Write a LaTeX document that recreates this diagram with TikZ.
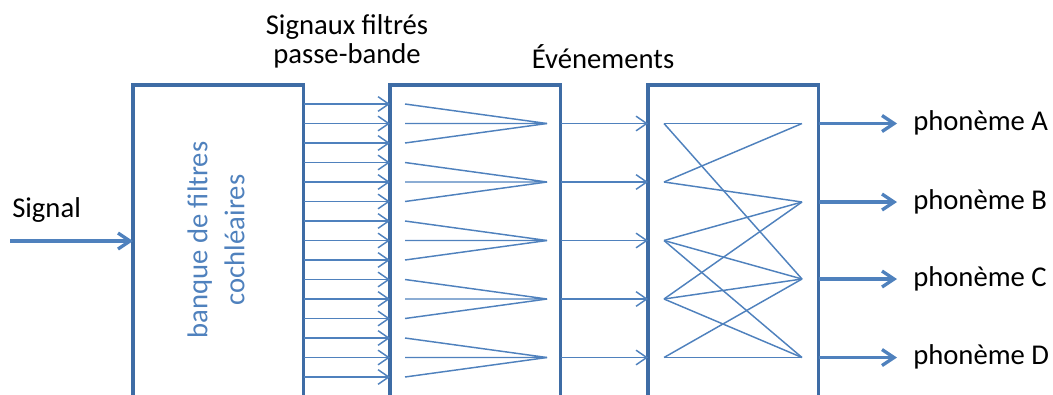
\documentclass[tikz,border=0pt]{standalone}
\usepackage{fontspec}
\setmainfont{Carlito}
\usepackage{xcolor}
\usetikzlibrary{arrows.meta}
\definecolor{bordure}{RGB}{62,108,165}
\definecolor{trait}{RGB}{79,129,189}

\begin{document}
\begin{tikzpicture}[x=0.75pt,y=-0.75pt,
    bloc/.style={draw=bordure,line width=2.6pt,minimum width=128pt,minimum height=252pt,
      anchor=north west,inner sep=0pt,outer sep=0pt},
    fin/.style={draw=trait,line width=1.1pt},
    fleche/.style={fin,-{Straight Barb[length=8pt,width=11pt]}},
    grosse/.style={draw=trait,line width=2.5pt,-{Straight Barb[length=9pt,width=12pt]}},
    texte/.style={inner sep=0pt,font=\fontsize{21.5}{22}\selectfont}]
  \clip (0,0) rectangle (1053,394);
  % les trois blocs
  \node[bloc] (banque) at (133,85) {};
  \node[bloc] (evt) at (390,85) {};
  \node[bloc] (reco) at (648,85) {};
  \node[texte,text=trait,rotate=90,align=center,font=\fontsize{21.5}{27.75}\selectfont]
    (nomb) at (216,240) {banque de filtres\\cochléaires};
  % titres
  \node[texte,align=center,font=\fontsize{21.5}{21.75}\selectfont] (titre1) at (347,41)
    {Signaux filtrés\\passe-bande};
  \node[texte,anchor=base] (titre2) at (603,68) {Événements};
  % entree
  \node[texte,anchor=base west] (sig) at (12,217) {Signal};
  \coordinate (entree) at (10,241);
  \draw[grosse] (entree) -- (entree -| banque.west);
  % signaux passe-bande
  \foreach \i in {0,...,14} {
    \pgfmathsetmacro\y{104+19.5*\i}
    \draw[fleche] (banque.east |- 0,\y) -- (evt.west |- 0,\y);
  }
  % evenements
  \foreach \g in {1,...,5} {
    \pgfmathsetmacro\y{104+19.5*(3*\g-2)}
    \coordinate (p\g) at (547,\y);
    \coordinate (g\g) at (664,\y);
    \draw[fin] (405,\y-19.5) -- (p\g) -- (405,\y);
    \draw[fin] (405,\y+19.5) -- (p\g);
    \draw[fleche] (evt.east |- p\g) -- (reco.west |- p\g);
  }
  % phonemes
  \foreach \k/\y/\lettre in {1/123.5/A,2/202/B,3/279/C,4/357.5/D} {
    \coordinate (d\k) at (802,\y);
    \node[texte,anchor=base west] (ph\k) at (913,\y+7) {phonème \lettre};
    \draw[grosse,shorten >=12pt] (reco.east |- d\k) -- (ph\k.west |- d\k);
  }
  \foreach \a/\b in {1/1,1/3,2/1,2/2,3/2,3/3,3/4,4/2,4/3,4/4,5/3,5/4}
    \draw[fin] (g\a) -- (d\b);
\end{tikzpicture}
\end{document}
